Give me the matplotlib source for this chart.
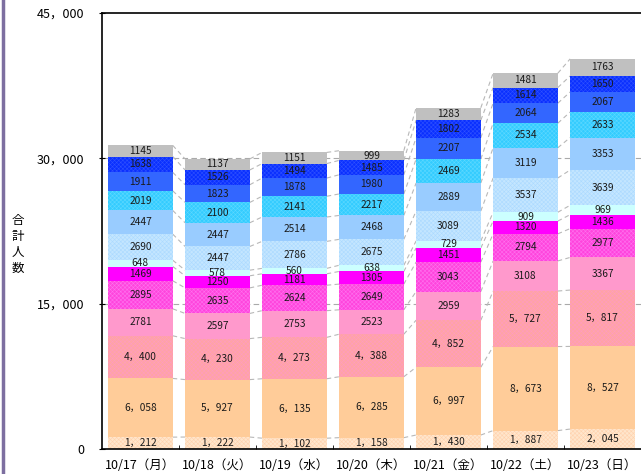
import matplotlib.pyplot as plt
import numpy as np
from matplotlib.lines import Line2D

plt.rcParams['font.family'] = ['Noto Sans CJK JP', 'DejaVu Sans']
plt.rcParams['hatch.linewidth'] = 0.4

days = ['10/17（月）', '10/18（火）', '10/19（水）', '10/20（木）',
        '10/21（金）', '10/22（土）', '10/23（日）']

# segments from bottom to top
s01 = [1212, 1222, 1102, 1158, 1430, 1887, 2045]
s02 = [6058, 5927, 6135, 6285, 6997, 8673, 8527]
s03 = [4400, 4230, 4273, 4388, 4852, 5727, 5817]
s04 = [2781, 2597, 2753, 2523, 2959, 3108, 3367]
s05 = [2895, 2635, 2624, 2649, 3043, 2794, 2977]
s06 = [1469, 1250, 1181, 1305, 1451, 1320, 1436]
s07 = [648, 578, 560, 638, 729, 909, 969]
s08 = [2690, 2447, 2786, 2675, 3089, 3537, 3639]
s09 = [2447, 2447, 2514, 2468, 2889, 3119, 3353]
s10 = [2019, 2100, 2141, 2217, 2469, 2534, 2633]
s11 = [1911, 1823, 1878, 1980, 2207, 2064, 2067]
s12 = [1638, 1526, 1494, 1485, 1802, 1614, 1650]
s13 = [1145, 1137, 1151, 999, 1283, 1481, 1763]
series = [s01, s02, s03, s04, s05, s06, s07, s08, s09, s10, s11, s12, s13]

# (face, hatch colour or None)
styles = [('#FFE6CC', '#FFD2AE'), ('#FFCC99', None), ('#FFA4A4', '#FF9CC0'),
          ('#FF99CC', None), ('#FF44DD', '#FF70EE'), ('#FF00FF', None),
          ('#CCFFFF', None), ('#C4E6FF', '#ACDAFF'), ('#99CCFF', None),
          ('#33CCFF', '#5CD8FF'), ('#3366FF', None), ('#0A30FF', '#2E50FF'),
          ('#C0C0C0', None)]

comma_rows = {0, 1, 2}

fig = plt.figure(figsize=(6.41, 4.74), dpi=100)
ax = fig.add_axes([0.159, 0.053, 0.841, 0.920])

x = np.arange(len(days))
w = 0.84
bottom = np.zeros(len(days))
tops = []
for i, (vals, (fc, hc)) in enumerate(zip(series, styles)):
    vals = np.array(vals)
    if hc:
        ax.bar(x, vals, w, bottom=bottom, color=fc, edgecolor=hc,
               linewidth=0, hatch='xxxxxxxx', zorder=2)
    else:
        ax.bar(x, vals, w, bottom=bottom, color=fc, linewidth=0, zorder=2)
    for xi, b, v in zip(x, bottom, vals):
        lbl = f'{v:,}'.replace(',', '，') if i in comma_rows else str(v)
        ax.text(xi, b + v / 2, lbl, ha='center', va='center',
                fontsize=7.3, color='#1a1a1a', zorder=3)
    bottom = bottom + vals
    tops.append(bottom.copy())

# dashed connector lines between bars
for cum in [np.zeros(len(days))] + tops:
    for j in range(len(days) - 1):
        ax.plot([x[j] + w / 2, x[j + 1] - w / 2], [cum[j], cum[j + 1]],
                color='#b8b8b8', ls=(0, (4, 3)), lw=0.8, zorder=1)

ax.set_xlim(-0.5, 6.5)
ax.set_ylim(0, 45000)
ax.set_yticks([0, 15000, 30000, 45000])
ax.set_yticklabels(['0', '15，000', '30，000', '45，000'], fontsize=9)
ax.set_xticks(x)
ax.set_xticklabels(days, fontsize=9)
ax.tick_params(axis='x', length=0, pad=7)
ax.tick_params(axis='y', direction='inout', length=5, pad=10)
ax.set_xticks(np.arange(0.5, 6.5, 1), minor=True)
ax.tick_params(axis='x', which='minor', direction='in', length=3)
for yv in [15000, 30000]:
    ax.axhline(yv, color='#aaaaaa', ls=(0, (5, 3)), lw=0.8, zorder=0)
for sp in ['left', 'bottom', 'top']:
    ax.spines[sp].set_linewidth(1.2)
ax.spines['right'].set_visible(False)

fig.text(0.028, 0.485, '合\n計\n人\n数', fontsize=9, ha='center', va='center',
         linespacing=1.3)
fig.add_artist(Line2D([0.004, 0.004], [0, 1], color='#7d6fa0', lw=2.5,
                      transform=fig.transFigure))

fig.savefig('out.png', dpi=100)
